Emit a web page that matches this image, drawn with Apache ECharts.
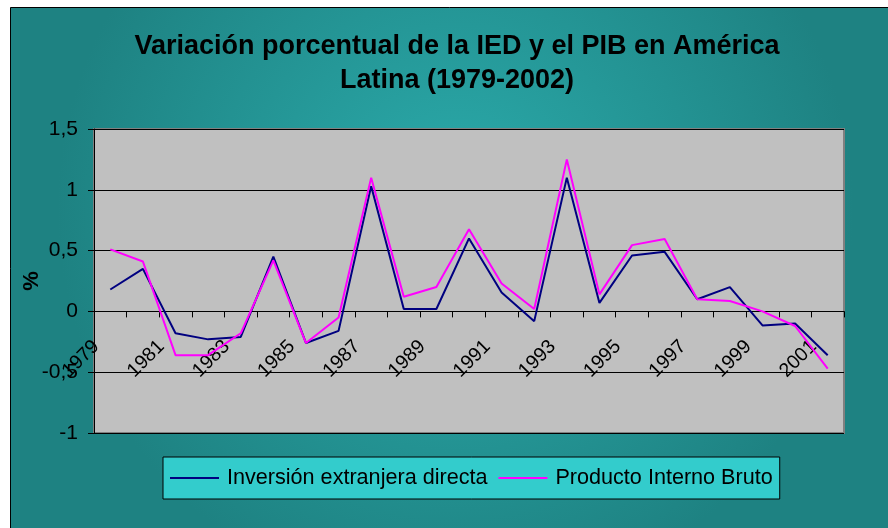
<!DOCTYPE html>
<html>
<head>
<meta charset="utf-8">
<script src="https://cdn.jsdelivr.net/npm/echarts@6/dist/echarts.min.js"></script>
<style>
  html, body { margin: 0; padding: 0; background: #ffffff; }
  #main { width: 888px; height: 528px; }
</style>
</head>
<body>
<div id="main"></div>
<script>
var years = ['1979', '1980', '1981', '1982', '1983', '1984', '1985', '1986', '1987', '1988', '1989', '1990',
    '1991', '1992', '1993', '1994', '1995', '1996', '1997', '1998', '1999', '2000', '2001'];
var ied = [0.18, 0.35, -0.18, -0.23, -0.21, 0.45, -0.26, -0.16, 1.03, 0.02, 0.02, 0.60,
    0.155, -0.08, 1.10, 0.07, 0.46, 0.49, 0.10, 0.20, -0.115, -0.10, -0.36];
var pib = [0.51, 0.41, -0.36, -0.36, -0.18, 0.42, -0.26, -0.05, 1.10, 0.12, 0.20, 0.675,
    0.23, 0.02, 1.25, 0.14, 0.545, 0.595, 0.10, 0.085, 0.0, -0.12, -0.47];
var seriesNames = ['Inversión extranjera directa', 'Producto Interno Bruto'];

var chartDom = document.getElementById('main');
var myChart = echarts.init(chartDom);
var option;

option = {
    backgroundColor: '#ffffff',
    textStyle: {
        fontFamily: 'Liberation Sans, Arial, sans-serif'
    },
    graphic: [
        {
            type: 'rect',
            z: -10,
            silent: true,
            shape: { x: 10.5, y: 7.5, width: 890, height: 530 },
            style: {
                fill: {
                    type: 'radial', x: 0.5, y: 0.38, r: 0.75,
                    colorStops: [
                        { offset: 0, color: '#2BABAB' },
                        { offset: 1, color: '#1E8282' }
                    ]
                },
                stroke: '#000000',
                lineWidth: 1
            }
        }
    ],
    title: {
        text: 'Variación porcentual de la IED y el PIB en América\nLatina (1979-2002)',
        left: 457,
        top: 30,
        textAlign: 'center',
        padding: 0,
        textStyle: {
            color: '#000000',
            fontSize: 27,
            fontWeight: 'bold',
            lineHeight: 34,
            fontFamily: 'Liberation Sans, Arial, sans-serif'
        }
    },
    legend: {
        left: 163,
        top: 457,
        padding: [10, 7],
        icon: 'rect',
        itemWidth: 49,
        itemHeight: 2,
        itemGap: 11,
        backgroundColor: '#33CCCC',
        borderColor: '#000000',
        borderWidth: 1,
        borderRadius: 0,
        textStyle: {
            color: '#000000',
            fontSize: 21.6,
            padding: [0, 0, 0, 3]
        },
        data: seriesNames
    },
    grid: {
        left: 94,
        right: 44,
        top: 129,
        bottom: 95,
        show: true,
        backgroundColor: '#C0C0C0',
        borderColor: '#808080',
        borderWidth: 2
    },
    xAxis: {
        type: 'category',
        data: years,
        boundaryGap: true,
        offset: -121.6,
        axisLine: {
            onZero: false,
            lineStyle: { color: '#000000', width: 1 }
        },
        axisTick: {
            show: true,
            interval: 0,
            length: 6,
            lineStyle: { color: '#000000' }
        },
        axisLabel: {
            interval: 1,
            rotate: 45,
            margin: 18,
            padding: [0, 20, 0, 0],
            color: '#000000',
            fontSize: 19.5
        }
    },
    yAxis: {
        type: 'value',
        min: -1,
        max: 1.5,
        interval: 0.5,
        name: '%',
        nameLocation: 'middle',
        nameGap: 51,
        nameMoveOverlap: false,
        nameTextStyle: {
            color: '#000000',
            fontSize: 22,
            fontWeight: 'bold'
        },
        axisLine: {
            show: true,
            lineStyle: { color: '#000000', width: 1 }
        },
        axisTick: {
            show: true,
            length: 6,
            lineStyle: { color: '#000000' }
        },
        axisLabel: {
            margin: 16,
            color: '#000000',
            fontSize: 21,
            formatter: function (v) {
                return String(v).replace('.', ',');
            }
        },
        splitLine: {
            show: true,
            lineStyle: { color: '#000000', width: 1 }
        }
    },
    series: [
        {
            name: seriesNames[0],
            type: 'line',
            data: ied,
            symbol: 'none',
            lineStyle: { color: '#000080', width: 2 },
            itemStyle: { color: '#000080' }
        },
        {
            name: seriesNames[1],
            type: 'line',
            data: pib,
            symbol: 'none',
            lineStyle: { color: '#FF00FF', width: 2 },
            itemStyle: { color: '#FF00FF' }
        }
    ]
};

option && myChart.setOption(option);
</script>
</body>
</html>
